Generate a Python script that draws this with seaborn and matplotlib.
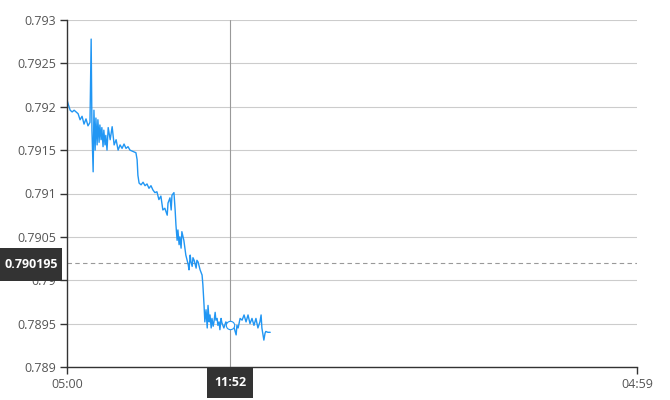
import matplotlib
matplotlib.use("Agg")
from matplotlib import pyplot as plt
import matplotlib.dates as mdates
from matplotlib.patches import Rectangle
import numpy as np
import pandas as pd
import seaborn as sns

# minutes after 05:00 and the rate
minutes = [0, 3, 8, 13, 18, 23, 28, 33, 38, 43, 48, 53, 58, 61, 63, 66, 68, 71, 73, 76,
           78, 81, 83, 86, 88, 91, 93, 96, 98, 101, 104, 109, 114, 119, 124, 129, 134, 139, 144, 149,
           154, 159, 164, 169, 174, 177, 179, 182, 187, 192, 197, 202, 207, 212, 217, 222, 227, 232, 237, 242,
           247, 253, 255, 260, 263, 265, 270, 273, 275, 278, 280, 283, 285, 288, 290, 295, 300, 306, 308, 311,
           313, 316, 318, 321, 326, 328, 331, 336, 341, 343, 346, 348, 351, 354, 356, 359, 361, 364, 366, 369,
           371, 374, 376, 379, 381, 384, 386, 389, 391, 396, 401, 407, 412, 417, 422, 427, 429, 432, 437, 442,
           447, 452, 457, 462, 467, 472, 477, 482, 487, 490, 492, 495, 497, 500, 502, 507, 513]
rate = [0.79208, 0.79203, 0.79196, 0.79194, 0.79196, 0.79194, 0.79192, 0.79185, 0.79189, 0.79180,
        0.79186, 0.79178, 0.79182, 0.79278, 0.79173, 0.79125, 0.79196, 0.79150, 0.79187, 0.79156,
        0.79185, 0.79159, 0.79179, 0.79162, 0.79176, 0.79154, 0.79173, 0.79156, 0.79167, 0.79150,
        0.79176, 0.79162, 0.79177, 0.79156, 0.79162, 0.79150, 0.79156, 0.79152, 0.79157, 0.79152,
        0.79154, 0.79150, 0.79149, 0.79148, 0.79147, 0.79139, 0.79121, 0.79112, 0.79110, 0.79113,
        0.79109, 0.79111, 0.79106, 0.79109, 0.79104, 0.79101, 0.79102, 0.79093, 0.79097, 0.79081,
        0.79083, 0.79075, 0.79089, 0.79095, 0.79081, 0.79098, 0.79101, 0.79081, 0.79064, 0.79046,
        0.79058, 0.79041, 0.79050, 0.79037, 0.79056, 0.79046, 0.79029, 0.79018, 0.79012, 0.79029,
        0.79021, 0.79016, 0.79026, 0.79023, 0.79014, 0.79023, 0.79021, 0.79012, 0.79006, 0.78995,
        0.78971, 0.78952, 0.78966, 0.78945, 0.78971, 0.78952, 0.78960, 0.78945, 0.78956, 0.78947,
        0.78952, 0.78963, 0.78954, 0.78956, 0.78948, 0.78952, 0.78943, 0.78956, 0.78951, 0.78945,
        0.78952, 0.78948, 0.78948, 0.78950, 0.78945, 0.78937, 0.78948, 0.78945, 0.78956, 0.78954,
        0.78960, 0.78952, 0.78960, 0.78950, 0.78956, 0.78948, 0.78956, 0.78945, 0.78952, 0.78960,
        0.78945, 0.78937, 0.78931, 0.78939, 0.78941, 0.78940, 0.78940]

y_ticks = [0.789, 0.7895, 0.79, 0.7905, 0.791, 0.7915, 0.792, 0.7925, 0.793]
y_labels = ['0.789', '0.7895', '0.79', '0.7905', '0.791', '0.7915', '0.792', '0.7925', '0.793']
cursor_time = '11:52'
cursor_value = 0.790195
cursor_label = '0.790195'

start = pd.Timestamp('2024-01-01 05:00')
end = start + pd.Timedelta(minutes=1439)
df = pd.DataFrame({'time': start + pd.to_timedelta(minutes, unit='m'), 'rate': rate})

sns.set_style('white')
plt.rcParams['font.family'] = ['Open Sans', 'DejaVu Sans']

fig = plt.figure(figsize=(6.7, 4), dpi=100)
ax = fig.add_axes([67/670, 33/400, 570/670, 347/400])

sns.lineplot(data=df, x='time', y='rate', ax=ax, color='#2196f3', linewidth=1)

ax.set_xlim(start, end)
ax.set_ylim(0.789, 0.793)
ax.set_yticks(y_ticks)
ax.set_yticklabels(y_labels)
ax.set_xticks([start, end])
ax.xaxis.set_major_formatter(mdates.DateFormatter('%H:%M'))
ax.set_xlabel('')
ax.set_ylabel('')

ax.grid(axis='y', color='#cccccc', linewidth=0.8)
ax.grid(axis='x', visible=False)
for side in ['top', 'right']:
    ax.spines[side].set_visible(False)
for side in ['left', 'bottom']:
    ax.spines[side].set_color('#333333')
    ax.spines[side].set_linewidth(1)
ax.tick_params(axis='both', length=5, width=1, color='#333333', labelcolor='#555555',
               labelsize=9, pad=3, left=True, bottom=True)

# crosshair
t_cursor = pd.Timestamp('2024-01-01 ' + cursor_time)
ax.axvline(t_cursor, color='#999999', linewidth=0.8, zorder=1)
ax.axhline(cursor_value, color='#999999', linewidth=0.8, linestyle=(0, (4, 3)), zorder=1)
t_idx = int(np.argmin(np.abs(df['time'] - t_cursor).values))
ax.plot(df['time'][t_idx], df['rate'][t_idx], 'o', markersize=6, markerfacecolor='white',
        markeredgecolor='#2196f3', markeredgewidth=0.8, zorder=4)

# value tags
fig.add_artist(Rectangle((0, 1 - 281/400), 62/670, 33/400, transform=fig.transFigure,
                         facecolor='#333333', edgecolor='none', zorder=5))
fig.text(31/670, 1 - 264/400, cursor_label, color='white', fontsize=9, fontweight='bold',
         ha='center', va='center', zorder=6)
fig.add_artist(Rectangle((207/670, 1 - 398/400), 46/670, 31/400, transform=fig.transFigure,
                         facecolor='#333333', edgecolor='none', zorder=5))
fig.text(230/670, 1 - 382/400, cursor_time, color='white', fontsize=9, fontweight='bold',
         ha='center', va='center', zorder=6)

fig.savefig('out.png', dpi=100)
